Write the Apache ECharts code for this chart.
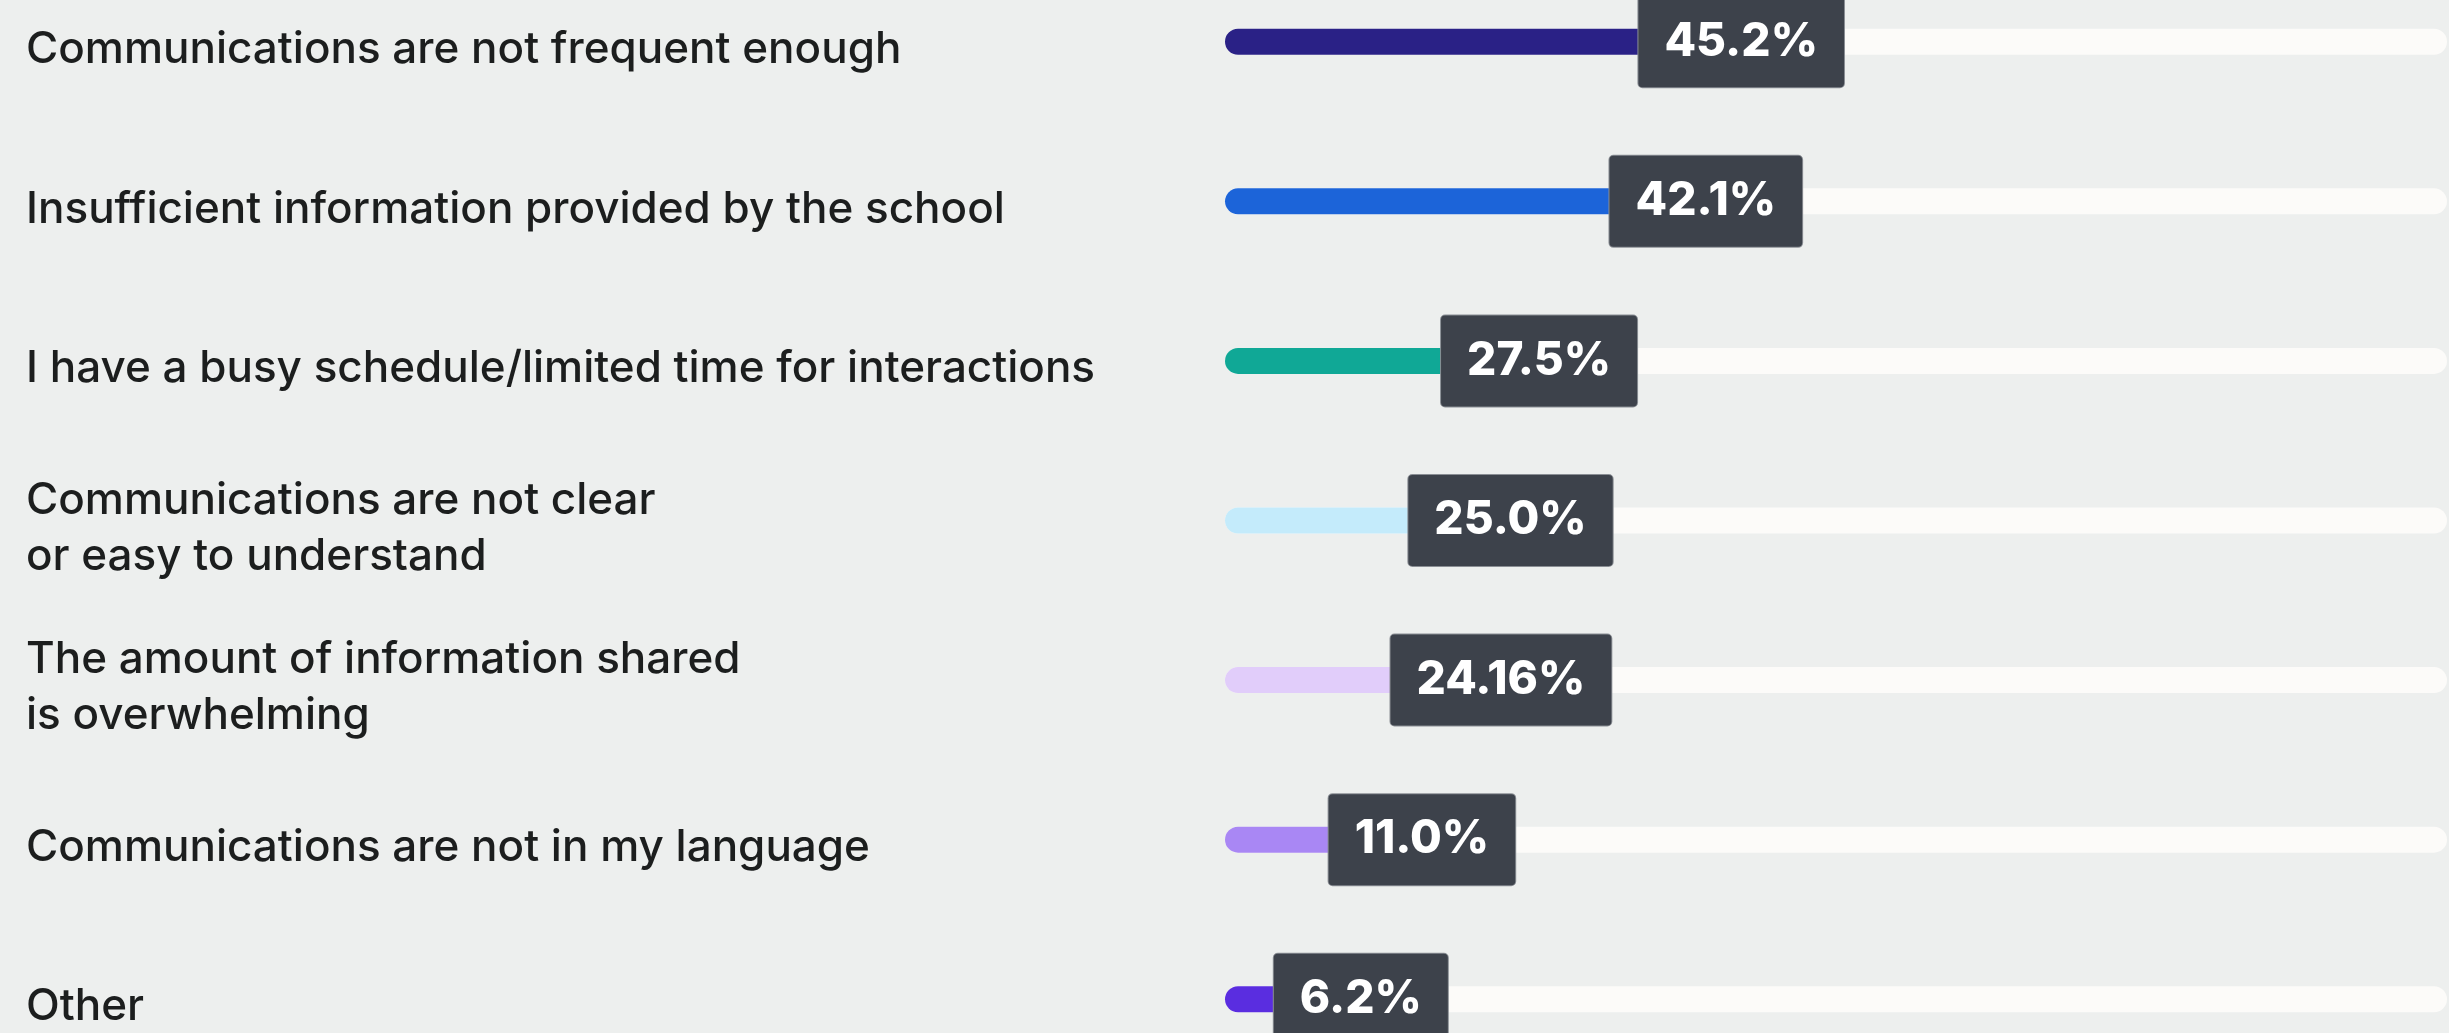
<!DOCTYPE html>
<html>
<head>
<meta charset="utf-8">
<script src="https://cdn.jsdelivr.net/npm/echarts@6/dist/echarts.min.js"></script>
<style>
  html, body { margin: 0; padding: 0; background: #edefee; }
  #chart { width: 2449px; height: 1033px; }
</style>
</head>
<body>
<div id="chart"></div>
<script>
const categories = [
    'Communications are not frequent enough',
    'Insufficient information provided by the school',
    'I have a busy schedule/limited time for interactions',
    'Communications are not clear\nor easy to understand',
    'The amount of information shared\nis overwhelming',
    'Communications are not in my language',
    'Other'
];
const values = [45.2, 42.1, 27.5, 25.0, 24.16, 11.0, 6.2];
const valueLabels = ['45.2%', '42.1%', '27.5%', '25.0%', '24.16%', '11.0%', '6.2%'];
const barColors = ['#2a2186', '#1c64d9', '#10a896', '#c4ebfb', '#e1cdfa', '#a987f4', '#5a2de0'];

const chartDom = document.getElementById('chart');
const myChart = echarts.init(chartDom);

function getOption() {
    return {
        backgroundColor: '#edefee',
        animation: false,
        grid: {
            left: 1225,
            right: 2,
            top: -38,
            height: 1117,
            outerBoundsMode: 'none',
            containLabel: false
        },
        xAxis: {
            type: 'value',
            min: 0,
            max: 107,
            show: false
        },
        yAxis: {
            type: 'category',
            inverse: true,
            data: categories,
            axisLine: { show: false },
            axisTick: { show: false },
            splitLine: { show: false },
            axisLabel: {
                align: 'left',
                margin: 1199,
                // small empty first line nudges the text a bit lower
                formatter: v => '{s| }\n' + v.split('\n').map(l => '{a|' + l + '}').join('\n'),
                rich: {
                    s: { fontSize: 2, lineHeight: 16 },
                    a: {
                        color: '#1c1e1e',
                        fontFamily: 'Inter',
                        fontWeight: 500,
                        fontSize: 44,
                        lineHeight: 56
                    }
                }
            }
        },
        series: [{
            type: 'bar',
            barWidth: 26,
            data: values.map((v, i) => ({
                value: v,
                itemStyle: { color: barColors[i] }
            })),
            itemStyle: {
                borderRadius: [13, 0, 0, 13]
            },
            showBackground: true,
            backgroundStyle: {
                color: '#fcfbf9',
                borderRadius: 13
            },
            label: {
                show: true,
                position: 'right',
                formatter: p => valueLabels[p.dataIndex],
                color: '#ffffff',
                fontFamily: 'Inter',
                fontWeight: 800,
                fontSize: 46,
                lineHeight: 47,
                backgroundColor: '#3d424b',
                borderColor: '#8a8e94',
                borderWidth: 1,
                borderRadius: 4,
                padding: [22, 26, 22, 26]
            },
            // label centred on the bar end; short bars get it pushed right
            labelLayout: function (params) {
                const r = params.rect;
                const w = params.labelRect.width;
                const end = r.x + r.width;
                let cx = end;
                if (end - w / 2 < r.x + 51) {
                    cx = end - 23 + w / 2;
                }
                return {
                    x: cx,
                    y: r.y + r.height / 2,
                    align: 'center',
                    verticalAlign: 'middle'
                };
            }
        }]
    };
}

myChart.setOption(getOption());
</script>
</body>
</html>
